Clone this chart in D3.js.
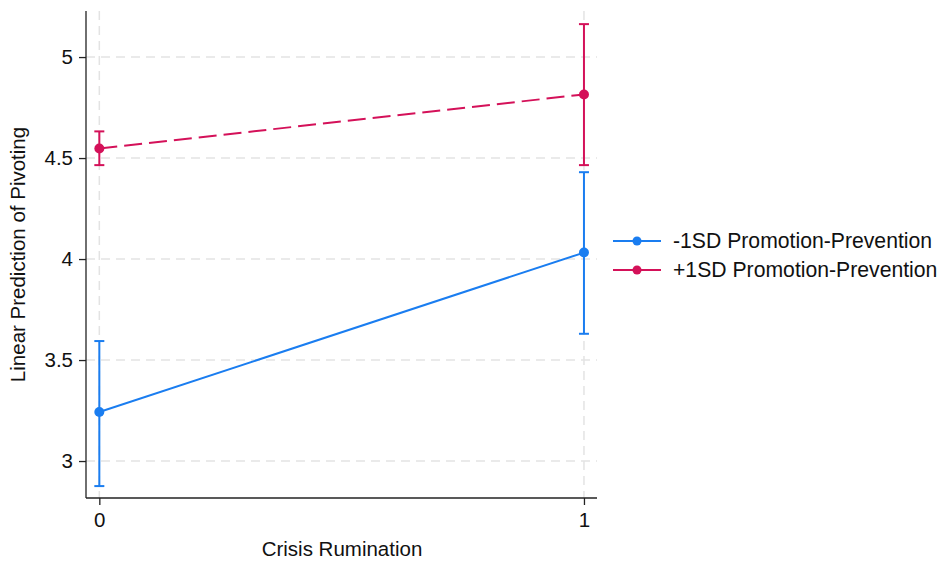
<!DOCTYPE html>
<html>
<head>
<meta charset="utf-8">
<script src="https://cdn.jsdelivr.net/npm/d3@7"></script>
<style>
  html, body { margin: 0; padding: 0; background: #fff; }
  svg { display: block; font-family: "Liberation Sans", Arial, sans-serif; }
</style>
</head>
<body>
<svg id="chart" width="942" height="563"></svg>
<script>
// Crisis rumination levels on the x axis
const xValues = [0, 1];
const xTickLabels = ["0", "1"];
const yTicks = [3, 3.5, 4, 4.5, 5];

// Predicted pivoting with 95% CIs for the two moderator levels
const seriesNames = ["-1SD Promotion-Prevention", "+1SD Promotion-Prevention"];
const lowMean = [3.243, 4.032];
const lowLower = [2.876, 3.630];
const lowUpper = [3.594, 4.430];
const highMean = [4.547, 4.815];
const highLower = [4.465, 4.465];
const highUpper = [4.632, 5.163];

const colors = ["#1a7df0", "#d41159"];
const dashes = [null, "18,7"];
const fontSize = "20.5px";

const series = [
  { name: seriesNames[0], mean: lowMean, lo: lowLower, hi: lowUpper },
  { name: seriesNames[1], mean: highMean, lo: highLower, hi: highUpper }
];

const svg = d3.select("#chart");
const plotLeft = 86, plotRight = 597, plotTop = 11, plotBottom = 498;

const x = d3.scaleLinear().domain([-0.0275, 1.0269]).range([plotLeft, plotRight]);
const y = d3.scaleLinear().domain([2.817, 5.228]).range([plotBottom, plotTop]);

// Dashed grid
const grid = svg.append("g");
grid.selectAll("line.h").data(yTicks).join("line")
  .attr("x1", plotLeft).attr("x2", plotRight)
  .attr("y1", d => y(d)).attr("y2", d => y(d))
  .attr("stroke", "#e3e3e3").attr("stroke-width", 1.5).attr("stroke-dasharray", "9,6");
grid.selectAll("line.v").data(xValues).join("line")
  .attr("y1", plotTop).attr("y2", plotBottom)
  .attr("x1", d => x(d)).attr("x2", d => x(d))
  .attr("stroke", "#e3e3e3").attr("stroke-width", 1.5).attr("stroke-dasharray", "9,6");

// Axes
const yAxis = svg.append("g").attr("transform", `translate(${plotLeft},0)`)
  .call(d3.axisLeft(y).tickValues(yTicks).tickFormat(d3.format("")).tickSize(7).tickPadding(6));
const xAxis = svg.append("g").attr("transform", `translate(0,${plotBottom})`)
  .call(d3.axisBottom(x).tickValues(xValues).tickFormat((d, i) => xTickLabels[i]).tickSize(7).tickPadding(7));
[yAxis, xAxis].forEach(a => {
  a.attr("font-size", null).attr("font-family", null);
  a.select(".domain").attr("stroke", "#222").attr("stroke-width", 1.3);
  a.selectAll(".tick line").attr("stroke", "#222").attr("stroke-width", 1.3);
  a.selectAll(".tick text").attr("fill", "#111").style("font-size", fontSize)
    .style("font-family", "'Liberation Sans', Arial, sans-serif");
});
// The domain paths draw outer ticks by default; keep just the lines
yAxis.select(".domain").attr("d", `M0,${plotTop}V${plotBottom}`);
xAxis.select(".domain").attr("d", `M${plotLeft},0H${plotRight}`);

// Axis titles
svg.append("text").attr("x", 342).attr("y", 556).attr("text-anchor", "middle")
  .attr("fill", "#111").style("font-size", fontSize).text("Crisis Rumination");
svg.append("text").attr("transform", `translate(25,${(plotTop + plotBottom) / 2}) rotate(-90)`)
  .attr("text-anchor", "middle").attr("fill", "#111").style("font-size", fontSize)
  .text("Linear Prediction of Pivoting");

// Series: CI bars, connecting lines, markers
series.forEach((s, k) => {
  const g = svg.append("g");
  const col = colors[k];
  xValues.forEach((xv, i) => {
    g.append("line").attr("x1", x(xv)).attr("x2", x(xv))
      .attr("y1", y(s.lo[i])).attr("y2", y(s.hi[i]))
      .attr("stroke", col).attr("stroke-width", 2);
    [s.lo[i], s.hi[i]].forEach(v => {
      g.append("line").attr("x1", x(xv) - 5).attr("x2", x(xv) + 5)
        .attr("y1", y(v)).attr("y2", y(v))
        .attr("stroke", col).attr("stroke-width", 2);
    });
  });
  const line = d3.line().x((d, i) => x(xValues[i])).y(d => y(d));
  g.append("path").datum(s.mean).attr("d", line)
    .attr("fill", "none").attr("stroke", col).attr("stroke-width", 2)
    .attr("stroke-dasharray", dashes[k]);
  g.selectAll("circle").data(s.mean).join("circle")
    .attr("cx", (d, i) => x(xValues[i])).attr("cy", d => y(d))
    .attr("r", 5).attr("fill", col);
});

// Legend
const legend = svg.append("g");
series.forEach((s, k) => {
  const ly = 241 + k * 29;
  legend.append("line").attr("x1", 613).attr("x2", 661).attr("y1", ly).attr("y2", ly)
    .attr("stroke", colors[k]).attr("stroke-width", 2);
  legend.append("circle").attr("cx", 637).attr("cy", ly).attr("r", 4.5).attr("fill", colors[k]);
  legend.append("text").attr("x", 673).attr("y", ly + 7).attr("fill", "#111")
    .style("font-size", "21.2px").text(s.name);
});
</script>
</body>
</html>
